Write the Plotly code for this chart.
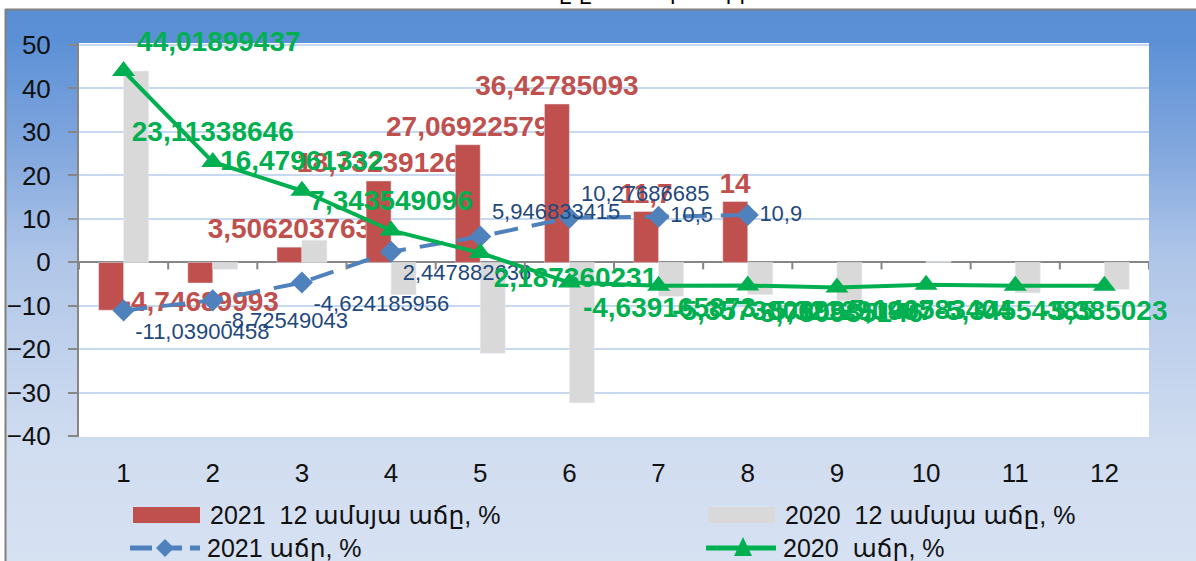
import plotly.graph_objects as go

W, H = 1196, 561

# ---------------- data ----------------
months = list(range(1, 13))

# 2021 12 ամսյա աճը, %  (bars, red)
growth12_2021 = [-11.0, -4.74689993, 3.506203763, 18.73239126, 27.06922579, 36.42785093,
                 11.7, 14, None, None, None, None]
show_label_2021 = [False, True, True, True, True, True, True, True, False, False, False, False]

# 2020 12 ամսյա աճը, %  (bars, grey, no labels)
growth12_2020 = [44.0, -1.6, 5.1, -7.4, -20.9, -32.3, -7.8, -7.4, -8.8, 0.3, -7.0, -6.2]

# 2021 աճր, %  (dashed blue line)
growth_2021 = [-11.03900458, -8.72549043, -4.624185956, 2.447882636, 5.946833415,
               10.27686685, 10.5, 10.9, None, None, None, None]

# 2020 աճր, %  (green line)
growth_2020 = [44.01899437, 23.11338646, 16.47961332, 7.343549096, 2.187360231,
               -4.639165873, -5.357380693, -5.321290987, -5.780985146, -5.140583404,
               -5.34554385, -5.385023]

names = ["2021  12 ամսյա աճը, %", "2020  12 ամսյա աճը, %", "2021 աճր, %", "2020  աճր, %"]
title_text = "Գնաճը ըստ ամիսների"


def fmt(v):
    return "" if v is None else f"{v:.10g}".replace(".", ",")


RED, GREY, BLUE, GREEN = "#C0504D", "#D9D9D9", "#4F81BD", "#00B050"
BLUE_TXT = "#1F497D"
AXIS = "#868686"
NARROW = "Liberation Sans Narrow, Liberation Sans, DejaVu Sans"
SANS = "Liberation Sans, DejaVu Sans"

# positions in pixels -> paper (margins are 0, so paper == whole figure)
def fx(x):
    return x / W


def fy(y):
    return 1 - y / H


fig = go.Figure()

fig.add_trace(go.Bar(
    x=months, y=growth12_2021, name=names[0], marker_color=RED,
    text=[fmt(v) if s else "" for v, s in zip(growth12_2021, show_label_2021)],
    textposition="outside", constraintext="none", cliponaxis=False,
    textfont=dict(family=SANS, size=28, color=RED, weight="bold"),
))
fig.add_trace(go.Bar(
    x=months, y=growth12_2020, name=names[1], marker_color=GREY,
))
fig.add_trace(go.Scatter(
    x=months, y=growth_2021, name=names[2], mode="lines+markers+text",
    line=dict(color=BLUE, width=4, dash="24px,14px"),
    marker=dict(symbol="diamond", size=17, color=BLUE),
    text=[fmt(v) for v in growth_2021],
    textposition=["bottom right", "bottom right", "bottom right", "bottom right",
                  "top right", "top right", "middle right", "middle right",
                  "middle right", "middle right", "middle right", "middle right"],
    textfont=dict(family=SANS, size=22, color=BLUE_TXT),
    cliponaxis=False,
))
fig.add_trace(go.Scatter(
    x=months, y=growth_2020, name=names[3], mode="lines+markers+text",
    line=dict(color=GREEN, width=4),
    marker=dict(symbol="triangle-up", size=20, color=GREEN),
    text=[fmt(v) for v in growth_2020],
    textposition=["top right", "top center", "top center", "top center",
                  "bottom right", "bottom right", "bottom right", "bottom right",
                  "bottom center", "bottom center", "bottom center", "bottom center"],
    textfont=dict(family=SANS, size=28, color=GREEN, weight="bold"),
    cliponaxis=False,
))

# ---------------- background (vertical gradient) ----------------
stops = [(10, (90, 143, 213)), (40, (91, 144, 214)), (150, (130, 167, 222)),
         (260, (176, 198, 232)), (450, (209, 221, 240)), (561, (214, 225, 242))]


def grad(y):
    for (y0, c0), (y1, c1) in zip(stops[:-1], stops[1:]):
        if y0 <= y <= y1:
            t = (y - y0) / (y1 - y0)
            return "rgb(%d,%d,%d)" % tuple(round(a + (b - a) * t) for a, b in zip(c0, c1))
    return "rgb(%d,%d,%d)" % stops[-1][1]


shapes = []
step = 3
y = 10
while y < H:
    shapes.append(dict(type="rect", xref="paper", yref="paper", layer="below",
                       x0=fx(6), x1=1, y0=fy(min(y + step + 1, H)), y1=fy(y),
                       fillcolor=grad(y + step / 2), line_width=0))
    y += step
# white plot area
shapes.append(dict(type="rect", xref="x domain", yref="y domain", layer="below",
                   x0=0, x1=1, y0=0, y1=1, fillcolor="white", line_width=0))
# chart area border (top & left)
shapes.append(dict(type="line", xref="paper", yref="paper", x0=fx(5), x1=1, y0=fy(9.5), y1=fy(9.5),
                   line=dict(color="#808080", width=2)))
shapes.append(dict(type="line", xref="paper", yref="paper", x0=fx(5.5), x1=fx(5.5), y0=0, y1=fy(9),
                   line=dict(color="#808080", width=2)))
# category tick marks on the zero line
for k in range(len(months) + 1):
    shapes.append(dict(type="line", xref="x", yref="y", ysizemode="pixel", yanchor=0,
                       x0=k + 0.5, x1=k + 0.5, y0=0, y1=-7,
                       line=dict(color=AXIS, width=2)))

# ---------------- manual legend ----------------
r1, r2 = 515, 548
legend_items = [
    (133, r1, "bar", RED, names[0]),
    (708, r1, "bar", GREY, names[1]),
    (130, r2, "dash", BLUE, names[2]),
    (706, r2, "tri", GREEN, names[3]),
]
annotations = []
for x0, yc, kind, col, label in legend_items:
    if kind == "bar":
        shapes.append(dict(type="rect", xref="paper", yref="paper",
                           x0=fx(x0), x1=fx(x0 + 67), y0=fy(yc + 8), y1=fy(yc - 8),
                           fillcolor=col, line_width=0))
    elif kind == "dash":
        shapes.append(dict(type="line", xref="paper", yref="paper",
                           x0=fx(x0), x1=fx(x0 + 70), y0=fy(yc), y1=fy(yc),
                           line=dict(color=col, width=5, dash="22px,8px")))
        cx = x0 + 35
        shapes.append(dict(type="path", xref="paper", yref="paper", line_width=0, fillcolor=col,
                           path=f"M {fx(cx-9)} {fy(yc)} L {fx(cx)} {fy(yc-9)} L {fx(cx+9)} {fy(yc)} "
                                f"L {fx(cx)} {fy(yc+9)} Z"))
    else:
        shapes.append(dict(type="line", xref="paper", yref="paper",
                           x0=fx(x0), x1=fx(x0 + 70), y0=fy(yc), y1=fy(yc),
                           line=dict(color=col, width=5)))
        cx = x0 + 37
        shapes.append(dict(type="path", xref="paper", yref="paper", line_width=0, fillcolor=col,
                           path=f"M {fx(cx-9)} {fy(yc+8)} L {fx(cx)} {fy(yc-11)} L {fx(cx+9)} {fy(yc+8)} Z"))
    annotations.append(dict(xref="paper", yref="paper", x=fx(x0 + 75), y=fy(yc),
                            xanchor="left", yanchor="middle", showarrow=False, text=label,
                            font=dict(family=NARROW, size=25, color="#111111")))

# clipped title at the very top
annotations.append(dict(xref="paper", yref="paper", x=fx(623), y=fy(7), xanchor="center",
                        yanchor="bottom", showarrow=False, text=title_text,
                        font=dict(family=NARROW, size=22, color="#000000")))

fig.update_layout(
    width=W, height=H,
    margin=dict(l=0, r=0, t=0, b=0, pad=0),
    paper_bgcolor="white", plot_bgcolor="white",
    barmode="group", bargap=0.44, bargroupgap=0,
    showlegend=False,
    shapes=shapes, annotations=annotations,
    xaxis=dict(domain=[fx(79), fx(1149)], range=[0.5, 12.5], tickmode="array",
               tickvals=months, ticktext=[str(m) for m in months],
               showline=False, ticks="", showgrid=False, zeroline=False,
               tickfont=dict(family=NARROW, size=26, color="#111111"),
               ticklabelstandoff=18, automargin=False),
    yaxis=dict(domain=[fy(437), fy(43)], range=[-40.16, 50.46], tick0=0, dtick=10,
               showline=True, linecolor=AXIS, linewidth=2,
               ticks="outside", ticklen=9, tickwidth=2, tickcolor=AXIS,
               showgrid=True, gridcolor="#C6D9F1", gridwidth=2,
               zeroline=True, zerolinecolor=AXIS, zerolinewidth=2,
               tickfont=dict(family=SANS, size=26, color="#111111"),
               ticklabelstandoff=12, automargin=False),
)

fig.write_html("out.html", config={"displayModeBar": False},
               post_script="document.body.style.margin='0';document.body.style.overflow='hidden';")
